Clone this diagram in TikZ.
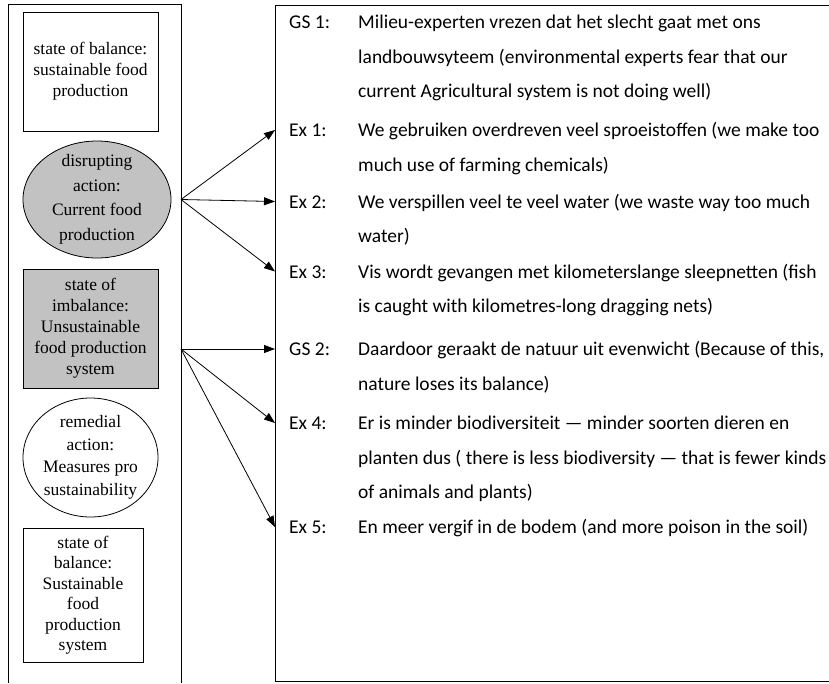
\documentclass[tikz,border=0pt]{standalone}
\usepackage{fontspec}
\setmainfont{Liberation Serif}
\newfontfamily\calibri{Carlito}
\usepackage{tikz}
\usetikzlibrary{arrows.meta,positioning,shapes.geometric}
\usepackage{xcolor}
\definecolor{shade}{gray}{0.76}

\begin{document}
\begin{tikzpicture}[x=1pt, y=-1pt,
  stage/.style={draw, line width=0.8pt, align=center, inner sep=0pt,
    font=\fontsize{17.5}{21}\selectfont},
  statebox/.style={stage, rectangle},
  actblob/.style={stage, ellipse, inner sep=-12pt,
    font=\fontsize{17.5}{24.5}\selectfont},
  tag/.style={anchor=west, inner sep=0pt,
    font=\calibri\fontsize{19.5}{34.5}\selectfont},
  say/.style={anchor=north west, inner sep=0pt, align=left,
    font=\calibri\fontsize{19.5}{34.5}\selectfont},
  link/.style={line width=0.8pt, -{Triangle[length=11pt, width=8pt]}}]
\useasboundingbox (0,0) rectangle (829,683);
% frames
\draw[line width=0.8pt] (8,683) |- (181,4) -- (181,683);
\draw[line width=0.8pt] (829,5) -| (275,681) -- (829,681);
\coordinate (lr) at (181,0);
\coordinate (rl) at (275,0);
\coordinate (tcol) at (358,0);
\coordinate (fork) at (181,349);
% stages
\node[statebox, minimum width=135pt, minimum height=119pt] (bal1) at (90.5,71.5)
  {state of balance:\\sustainable food\\production};
\node[actblob, fill=shade, minimum width=148pt, minimum height=117pt] (disrupt) at (97,199.5)
  {disrupting\\action:\\Current food\\production};
\node[statebox, fill=shade, minimum width=135pt, minimum height=119pt] (imbal) at (90.5,328.5)
  {state of\\imbalance:\\Unsustainable\\food production\\system};
\node[actblob, font=\fontsize{17.5}{22.5}\selectfont, minimum width=135pt, minimum height=119pt] (remedy) at (90.5,457.5)
  {remedial\\action:\\Measures pro\\sustainability};
\node[statebox, font=\fontsize{17.5}{20.5}\selectfont, minimum width=120pt, minimum height=134pt] (bal2) at (83,595)
  {state of\\balance:\\Sustainable\\food\\production\\system};
% statements
\node[tag] (gs1) at (289,22) {\strut GS 1:};
\node[say] (gs1t) at (gs1.north -| tcol) {\strut Milieu-experten vrezen dat het slecht gaat met ons\\
  landbouwsyteem (environmental experts fear that our\\
  current Agricultural system is not doing well)};
\node[tag] (ex1) at (289,130) {\strut Ex 1:};
\node[say] (ex1t) at (ex1.north -| tcol) {\strut We gebruiken overdreven veel sproeistoffen (we make too\\
  much use of farming chemicals)};
\node[tag] (ex2) at (289,201.5) {\strut Ex 2:};
\node[say] (ex2t) at (ex2.north -| tcol) {\strut We verspillen veel te veel water (we waste way too much\\
  water)};
\node[tag] (ex3) at (289,271.5) {\strut Ex 3:};
\node[say] (ex3t) at (ex3.north -| tcol) {\strut Vis wordt gevangen met kilometerslange sleepnetten (fish\\
  is caught with kilometres-long dragging nets)};
\node[tag] (gs2) at (289,349) {\strut GS 2:};
\node[say] (gs2t) at (gs2.north -| tcol) {\strut Daardoor geraakt de natuur uit evenwicht (Because of this,\\
  nature loses its balance)};
\node[tag] (ex4) at (289,423) {\strut Ex 4:};
\node[say] (ex4t) at (ex4.north -| tcol) {\strut Er is minder biodiversiteit — minder soorten dieren en\\
  planten dus ( there is less biodiversity — that is fewer kinds\\
  of animals and plants)};
\node[tag] (ex5) at (289,527) {\strut Ex 5:};
\node[say] (ex5t) at (ex5.north -| tcol) {\strut En meer vergif in de bodem (and more poison in the soil)};
% links
\draw[link] (disrupt -| lr) -- (ex1.west -| rl);
\draw[link] (disrupt -| lr) -- (ex2.west -| rl);
\draw[link] (disrupt -| lr) -- (ex3.west -| rl);
\draw[link] (fork) -- (gs2.west -| rl);
\draw[link] (fork) -- (ex4.west -| rl);
\draw[link] (fork) -- (ex5.west -| rl);
\end{tikzpicture}
\end{document}
